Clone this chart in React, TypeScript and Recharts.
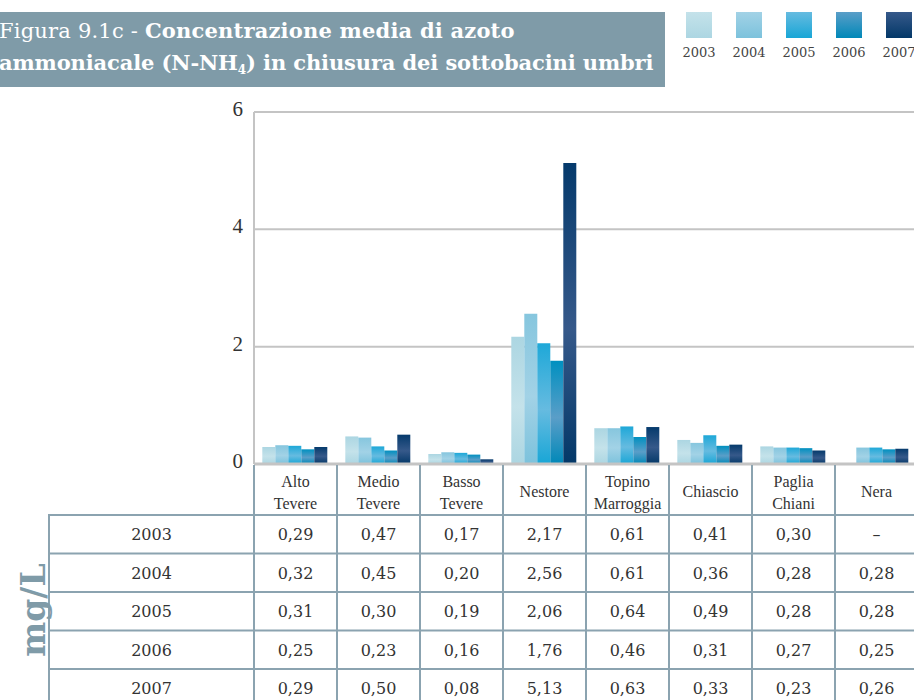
import React from 'react';
import { BarChart, Bar, XAxis, YAxis, CartesianGrid, Legend } from 'recharts';

const categories = ['Alto Tevere', 'Medio Tevere', 'Basso Tevere', 'Nestore', 'Topino Marroggia', 'Chiascio', 'Paglia Chiani', 'Nera'];
const years = ['2003', '2004', '2005', '2006', '2007'];
const v2003: (number | null)[] = [0.29, 0.47, 0.17, 2.17, 0.61, 0.41, 0.30, null];
const v2004: (number | null)[] = [0.32, 0.45, 0.20, 2.56, 0.61, 0.36, 0.28, 0.28];
const v2005: (number | null)[] = [0.31, 0.30, 0.19, 2.06, 0.64, 0.49, 0.28, 0.28];
const v2006: (number | null)[] = [0.25, 0.23, 0.16, 1.76, 0.46, 0.31, 0.27, 0.25];
const v2007: (number | null)[] = [0.29, 0.50, 0.08, 5.13, 0.63, 0.33, 0.23, 0.26];
const yTicks = [0, 2, 4, 6];

const seriesValues = [v2003, v2004, v2005, v2006, v2007];
// gradient colours: top, middle, bottom
const seriesColors = [
  ['#acd6e2', '#c4e2ea', '#acd6e2'],
  ['#86c6de', '#a2d2e6', '#7cc2dc'],
  ['#1ea8d8', '#66bbe0', '#18a6d6'],
  ['#0090c0', '#5a9ec8', '#0088b8'],
  ['#053a6c', '#36598a', '#033868'],
];

const data = categories.map((name, i) => {
  const row: Record<string, any> = { name };
  years.forEach((y, s) => { row[y] = seriesValues[s][i]; });
  return row;
});

const FONT = '"Liberation Serif", "DejaVu Serif", serif';
const NUM_FONT = '"DejaVu Serif", serif';
const CHART_W = 918;
const CHART_H = 700;
const PLOT_LEFT = 254;
const PLOT_TOP = 112;
const XAXIS_H = 236;
const AXIS_Y = CHART_H - XAXIS_H;
const COL_W = (CHART_W - PLOT_LEFT) / categories.length;
const HEADER_H = 51;
const ROW_H = 38.5;
const TABLE_LEFT = 49;
const LINE_COLOR = '#8ba3b0';
const TEXT_COLOR = '#333';

const fmt = (v: number | null) => (v == null ? '–' : v.toFixed(2).replace('.', ','));

function TableTick(props: any) {
  const { x, payload, index } = props;
  const left = x - COL_W / 2;
  const words = String(payload.value).split(' ');
  const tableTop = AXIS_Y + HEADER_H;
  const els: React.ReactNode[] = [];
  els.push(<line key="vl" x1={left} x2={left} y1={AXIS_Y + 1} y2={CHART_H} stroke={LINE_COLOR} strokeWidth={2} />);
  if (words.length === 2) {
    els.push(<text key="h1" x={x} y={AXIS_Y + 23} textAnchor="middle" fontFamily={FONT} fontSize={16} fill={TEXT_COLOR}>{words[0]}</text>);
    els.push(<text key="h2" x={x} y={AXIS_Y + 45} textAnchor="middle" fontFamily={FONT} fontSize={16} fill={TEXT_COLOR}>{words[1]}</text>);
  } else {
    els.push(<text key="h1" x={x} y={AXIS_Y + 33} textAnchor="middle" fontFamily={FONT} fontSize={16} fill={TEXT_COLOR}>{words[0]}</text>);
  }
  seriesValues.forEach((vals, r) => {
    els.push(
      <text key={'v' + r} x={x} y={tableTop + ROW_H * r + ROW_H / 2 + 6} textAnchor="middle" fontFamily={NUM_FONT} fontSize={16} fill={TEXT_COLOR}>
        {fmt(vals[index])}
      </text>
    );
  });
  if (index === 0) {
    for (let r = 0; r <= years.length; r++) {
      const yy = tableTop + ROW_H * r;
      els.push(<line key={'hl' + r} x1={TABLE_LEFT - 1} x2={CHART_W} y1={yy} y2={yy} stroke={LINE_COLOR} strokeWidth={2} />);
    }
    els.push(<line key="tl" x1={TABLE_LEFT} x2={TABLE_LEFT} y1={tableTop} y2={CHART_H} stroke={LINE_COLOR} strokeWidth={2} />);
    years.forEach((yr, r) => {
      els.push(
        <text key={'y' + r} x={(TABLE_LEFT + PLOT_LEFT) / 2} y={tableTop + ROW_H * r + ROW_H / 2 + 6} textAnchor="middle" fontFamily={NUM_FONT} fontSize={16} fill={TEXT_COLOR}>
          {yr}
        </text>
      );
    });
  }
  return <g>{els}</g>;
}

function YTick(props: any) {
  const { x, y, payload } = props;
  return (
    <text x={x} y={y - 3} dy={7} textAnchor="end" fontFamily={FONT} fontSize={21} fill={TEXT_COLOR}>
      {payload.value}
    </text>
  );
}

function LegendContent() {
  return (
    <div style={{ display: 'flex', fontFamily: NUM_FONT }}>
      {years.map((y, s) => (
        <div key={y} style={{ width: 50, display: 'flex', flexDirection: 'column', alignItems: 'center' }}>
          <svg width={26} height={26} style={{ display: 'block' }}>
            <defs>
              <linearGradient id={'lg' + y} x1="0" y1="0" x2="0" y2="1">
                <stop offset="0%" stopColor={seriesColors[s][1]} />
                <stop offset="100%" stopColor={seriesColors[s][2]} />
              </linearGradient>
            </defs>
            <rect x={0} y={0} width={26} height={26} fill={`url(#lg${y})`} />
          </svg>
          <div style={{ fontSize: 13, color: '#444', marginTop: 7, lineHeight: '16px' }}>{y}</div>
        </div>
      ))}
    </div>
  );
}

export default function App() {
  return (
    <div style={{ position: 'absolute', left: 0, top: 0, width: 914, height: 700, overflow: 'hidden', background: '#fff' }}>
      <BarChart
        width={CHART_W}
        height={CHART_H}
        data={data}
        margin={{ top: PLOT_TOP, right: 0, bottom: 0, left: 0 }}
        barCategoryGap="10%"
        barGap={0}
      >
        <defs>
          {years.map((y, s) => (
            <linearGradient key={y} id={'bg' + y} x1="0" y1="0" x2="0" y2="1">
              <stop offset="0%" stopColor={seriesColors[s][0]} />
              <stop offset="55%" stopColor={seriesColors[s][1]} />
              <stop offset="100%" stopColor={seriesColors[s][2]} />
            </linearGradient>
          ))}
        </defs>
        <CartesianGrid vertical={false} stroke="#c4c4c4" strokeWidth={2} />
        <XAxis
          dataKey="name"
          height={XAXIS_H}
          interval={0}
          tickLine={false}
          tickSize={0}
          tickMargin={0}
          axisLine={{ stroke: '#c4c4c4', strokeWidth: 3 }}
          tick={<TableTick />}
        />
        <YAxis
          type="number"
          domain={[0, 6]}
          ticks={yTicks}
          width={PLOT_LEFT}
          tickLine={false}
          tickSize={0}
          tickMargin={11}
          axisLine={{ stroke: '#c4c4c4', strokeWidth: 2 }}
          tick={<YTick />}
        />
        <Legend
          layout="horizontal"
          verticalAlign="middle"
          align="center"
          content={<LegendContent />}
          wrapperStyle={{ position: 'absolute', left: 674, top: 12, width: 260, height: 50 }}
        />
        {years.map((y) => (
          <Bar key={y} dataKey={y} fill={`url(#bg${y})`} isAnimationActive={false} />
        ))}
      </BarChart>
      <div
        style={{
          position: 'absolute',
          left: 0,
          top: 12,
          width: 665,
          height: 75,
          background: '#7f9ba8',
          color: '#fff',
          fontFamily: '"DejaVu Serif", serif',
          fontSize: 21,
          lineHeight: '32px',
          paddingTop: 3,
          boxSizing: 'border-box',
          whiteSpace: 'nowrap',
          overflow: 'hidden',
        }}
      >
        <div style={{ marginLeft: -1, letterSpacing: 0.2 }}>
          <span>Figura 9.1c - </span>
          <b>Concentrazione media di azoto</b>
        </div>
        <div style={{ marginLeft: -1, letterSpacing: -0.12 }}>
          <b>ammoniacale (N-NH<sub style={{ fontSize: 12, verticalAlign: -4, lineHeight: 0 }}>4</sub>) in chiusura dei sottobacini umbri</b>
        </div>
      </div>
      <div
        style={{
          position: 'absolute',
          left: 33,
          top: 610,
          transform: 'translate(-50%, -50%) rotate(-90deg)',
          fontFamily: '"DejaVu Serif", serif',
          fontWeight: 'bold',
          fontSize: 33,
          color: '#7f9ba8',
          whiteSpace: 'nowrap',
          lineHeight: 1,
        }}
      >
        mg/L
      </div>
    </div>
  );
}
